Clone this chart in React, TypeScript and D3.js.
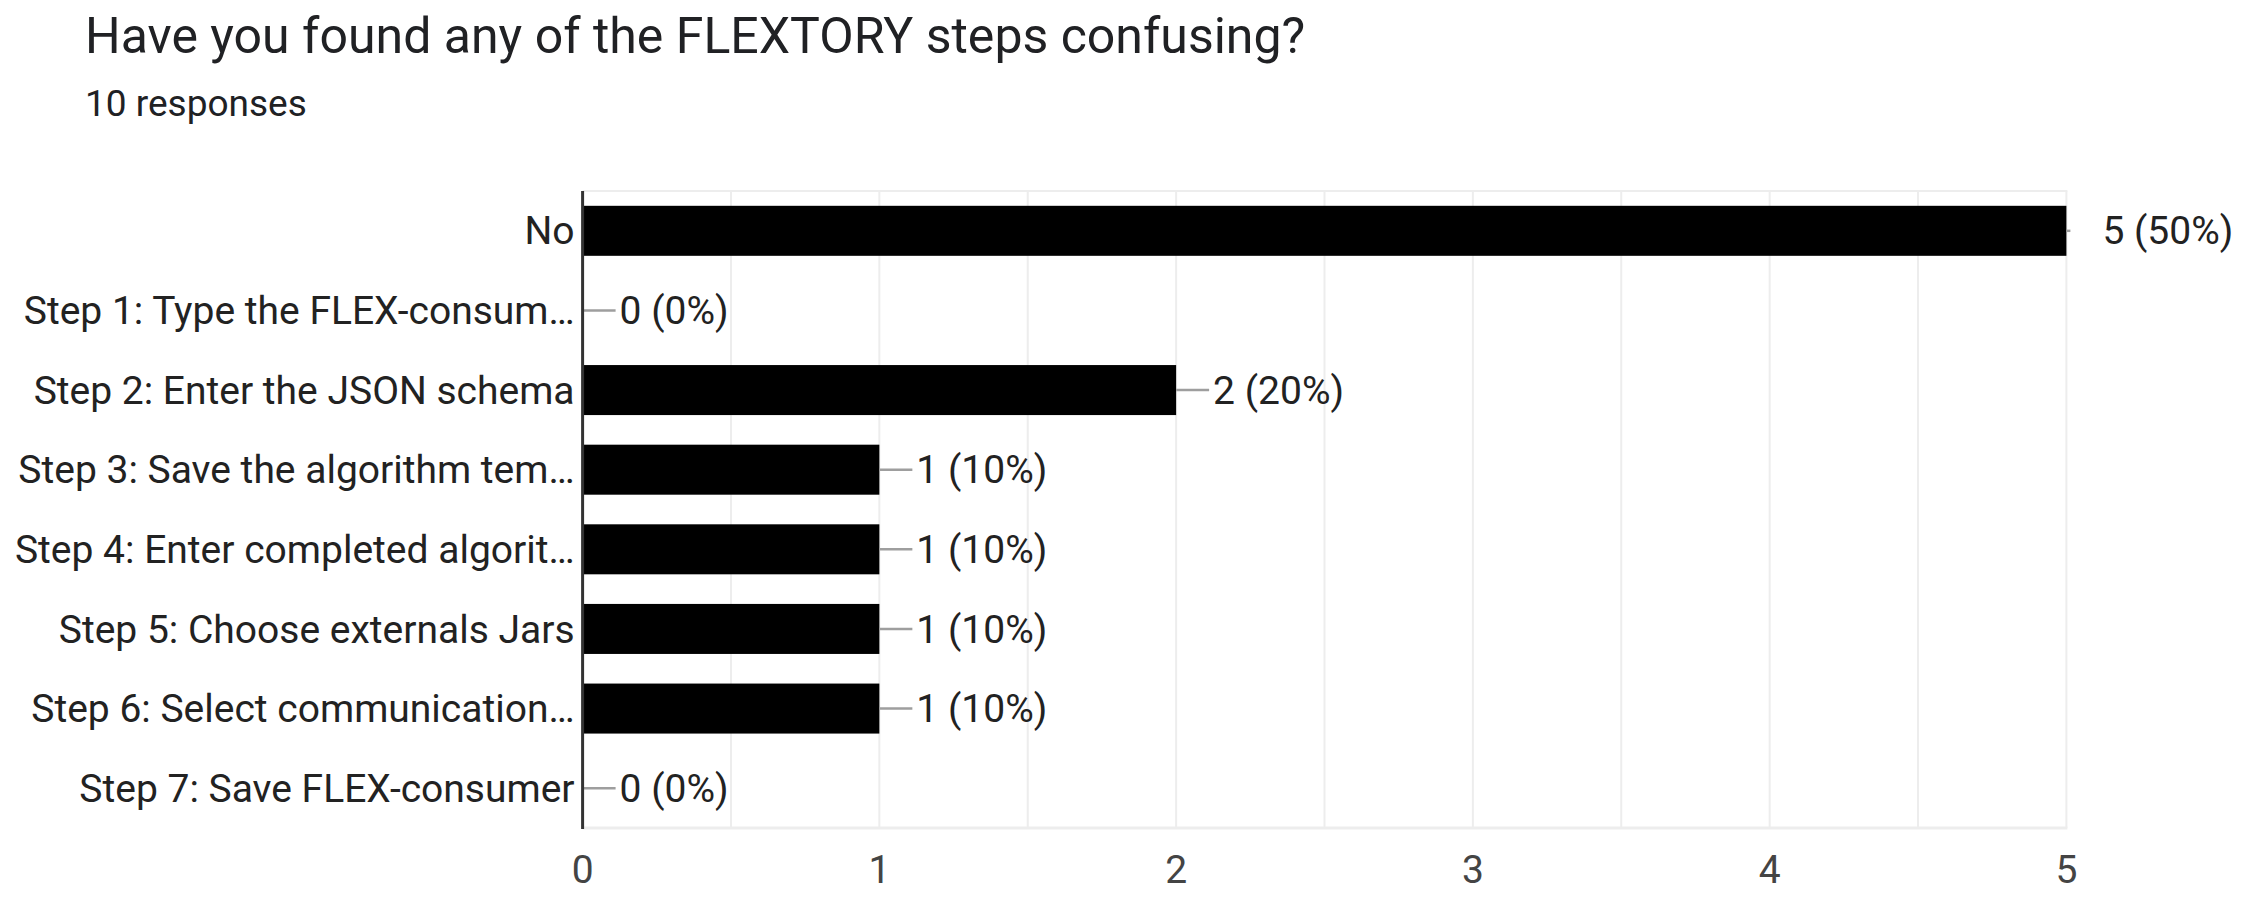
import React from "react";
import * as d3 from "d3";

const categories = [
  "No",
  "Step 1: Type the FLEX-consum…",
  "Step 2: Enter the JSON schema",
  "Step 3: Save the algorithm tem…",
  "Step 4: Enter completed algorit…",
  "Step 5: Choose externals Jars",
  "Step 6: Select communication…",
  "Step 7: Save FLEX-consumer",
];
const counts = [5, 0, 2, 1, 1, 1, 1, 0];
const percents = ["50%", "0%", "20%", "10%", "10%", "10%", "10%", "0%"];
const xTicks = [0, 1, 2, 3, 4, 5];
const gridTicks = [0.5, 1, 1.5, 2, 2.5, 3, 3.5, 4, 4.5, 5];

const W = 2250;
const H = 906;
const left = 582.6;
const right = 2066.4;
const top = 191;
const bottom = 828;
const font = "Roboto, 'Noto Sans', Arial, sans-serif";

export default function App() {
  const x = d3.scaleLinear().domain([0, 5]).range([left, right]);
  const y = d3.scaleBand<string>().domain(categories).range([top, bottom]).paddingInner(0.372).paddingOuter(0.186);
  return (
    <svg width={W} height={H} style={{ position: "absolute", left: 0, top: 0, background: "#fff" }}>
      <rect x={0} y={0} width={W} height={H} fill="#fff" />
      <text x={85} y={53} fontFamily={font} fontSize={50} fill="#202124">
        Have you found any of the FLEXTORY steps confusing?
      </text>
      <text x={85} y={116} fontFamily={font} fontSize={37} fill="#202124">
        10 responses
      </text>
      {gridTicks.map((t) => (
        <line key={t} x1={x(t)} x2={x(t)} y1={top} y2={bottom} stroke="#ededed" strokeWidth={2} />
      ))}
      <line x1={left} x2={right + 1} y1={top} y2={top} stroke="#ededed" strokeWidth={2} />
      <line x1={left} x2={right + 1} y1={bottom} y2={bottom} stroke="#ededed" strokeWidth={3} />
      {categories.map((c, i) => {
        const yc = y(c)! + y.bandwidth() / 2;
        const xe = x(counts[i]);
        const isMax = counts[i] === 5;
        const lineEnd = isMax ? xe + 4 : xe + 33;
        const labelX = isMax ? xe + 36 : xe + 37;
        return (
          <g key={c}>
            {counts[i] > 0 && (
              <rect x={x(0)} y={y(c)!} width={xe - x(0)} height={y.bandwidth()} fill="#000" />
            )}
            <line x1={xe} x2={lineEnd} y1={yc} y2={yc} stroke="#9e9e9e" strokeWidth={2.5} />
            <text x={labelX} y={yc} dy="0.35em" fontFamily={font} fontSize={39} fill="#222">
              {`${counts[i]} (${percents[i]})`}
            </text>
            <text x={left - 8} y={yc} dy="0.35em" textAnchor="end" fontFamily={font} fontSize={39} fill="#222">
              {c}
            </text>
          </g>
        );
      })}
      <line x1={left} x2={left} y1={top} y2={bottom + 1} stroke="#333" strokeWidth={3} />
      {xTicks.map((t) => (
        <text key={t} x={x(t)} y={869} dy="0.35em" textAnchor="middle" fontFamily={font} fontSize={39} fill="#444">
          {t}
        </text>
      ))}
    </svg>
  );
}
